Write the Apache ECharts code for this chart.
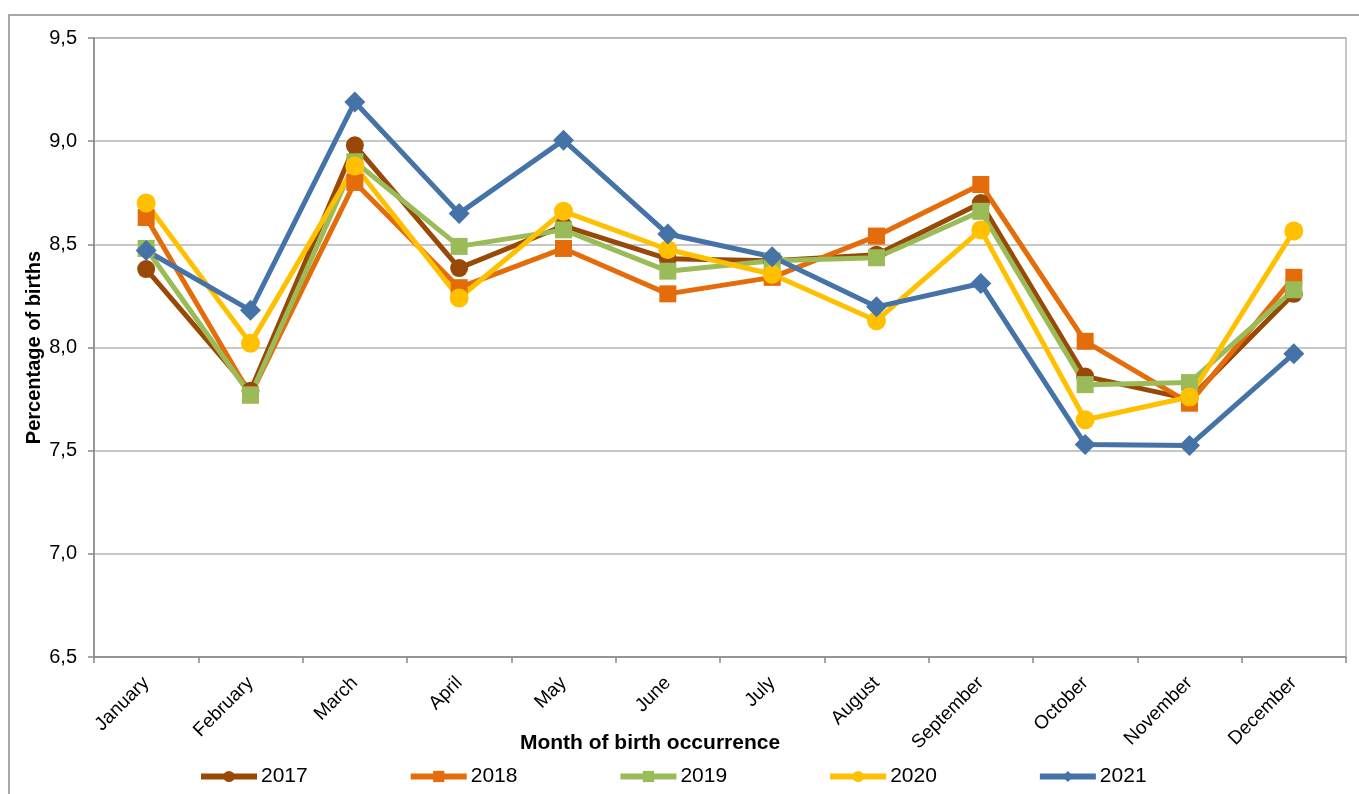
<!DOCTYPE html>
<html>
<head>
<meta charset="utf-8">
<script src="https://cdn.jsdelivr.net/npm/echarts@6/dist/echarts.min.js"></script>
<style>
html,body{margin:0;padding:0;background:#fff;}
#chart{width:1359px;height:794px;}
</style>
</head>
<body>
<div id="chart"></div>
<script>
var months = ['January','February','March','April','May','June','July','August','September','October','November','December'];
var yTicks = ['6,5','7,0','7,5','8,0','8,5','9,0','9,5'];
var y2017 = [8.38, 7.79, 8.98, 8.385, 8.59, 8.43, 8.42, 8.45, 8.70, 7.86, 7.75, 8.26];
var y2018 = [8.63, 7.77, 8.80, 8.29, 8.48, 8.26, 8.34, 8.54, 8.79, 8.03, 7.73, 8.34];
var y2019 = [8.48, 7.77, 8.90, 8.49, 8.57, 8.37, 8.42, 8.435, 8.66, 7.82, 7.83, 8.28];
var y2020 = [8.70, 8.02, 8.88, 8.24, 8.66, 8.475, 8.355, 8.13, 8.57, 7.65, 7.76, 8.565];
var y2021 = [8.47, 8.18, 9.19, 8.65, 9.005, 8.55, 8.44, 8.197, 8.31, 7.53, 7.525, 7.97];

var chart = echarts.init(document.getElementById('chart'));
function mk(name, data, color, symbol, size) {
  return {
    name: name, type: 'line', data: data,
    symbol: symbol, symbolSize: size, showSymbol: true,
    lineStyle: {color: color, width: 5},
    itemStyle: {color: color},
    emphasis: {disabled: true},
    animation: false
  };
}
var fontFam = '"Liberation Sans", Arial, sans-serif';
chart.setOption({
  backgroundColor: '#fff',
  animation: false,
  graphic: [{
    type: 'rect', silent: true,
    shape: {x: 9, y: 15, width: 1400, height: 820},
    style: {fill: 'none', stroke: '#8c8c8c', lineWidth: 1.5}
  }],
  grid: {left: 94, top: 38, right: 13, bottom: 137, show: true, borderColor: '#b4b4b4', borderWidth: 1.5, containLabel: false},
  legend: {
    left: 198, top: 766, padding: 0,
    itemWidth: 56, itemHeight: 14, itemGap: 100,
    lineStyle: {width: 6},
    textStyle: {fontSize: 21, color: '#000', fontFamily: fontFam, padding: [0,0,0,-1]},
    data: ['2017','2018','2019','2020','2021']
  },
  xAxis: {
    type: 'category', data: months, boundaryGap: true,
    name: 'Month of birth occurrence', nameLocation: 'middle', nameGap: 76, nameMoveOverlap: false,
    nameTextStyle: {fontSize: 21, fontWeight: 'bold', color: '#000', fontFamily: fontFam, padding: [0, 140, 0, 0]},
    axisLine: {lineStyle: {color: '#888', width: 1.5}},
    axisTick: {show: true, alignWithLabel: false, length: 6, lineStyle: {color: '#888', width: 1.5}},
    axisLabel: {rotate: 45, fontSize: 19, color: '#000', fontFamily: fontFam, margin: 23, interval: 0},
    splitLine: {show: false}
  },
  yAxis: {
    type: 'value', min: 6.5, max: 9.5, interval: 0.5,
    name: 'Percentage of births', nameLocation: 'middle', nameGap: 50, nameMoveOverlap: false,
    nameTextStyle: {fontSize: 20, fontWeight: 'bold', color: '#000', fontFamily: fontFam},
    axisLine: {show: true, lineStyle: {color: '#888', width: 1.5}},
    axisTick: {show: true, length: 6, lineStyle: {color: '#888', width: 1.5}},
    axisLabel: {fontSize: 20, color: '#000', fontFamily: fontFam, margin: 17,
      formatter: function(v){ var i = Math.round((v-6.5)/0.5); return yTicks[i]; }},
    splitLine: {show: true, lineStyle: {color: '#b4b4b4', width: 1.5}}
  },
  series: [
    mk('2017', y2017, '#984807', 'circle', 18),
    mk('2018', y2018, '#E46C0A', 'rect', 17),
    mk('2019', y2019, '#9BBB59', 'rect', 17),
    mk('2020', y2020, '#FFC000', 'circle', 19),
    mk('2021', y2021, '#4572A7', 'diamond', [21,21])
  ]
});
</script>
</body>
</html>
